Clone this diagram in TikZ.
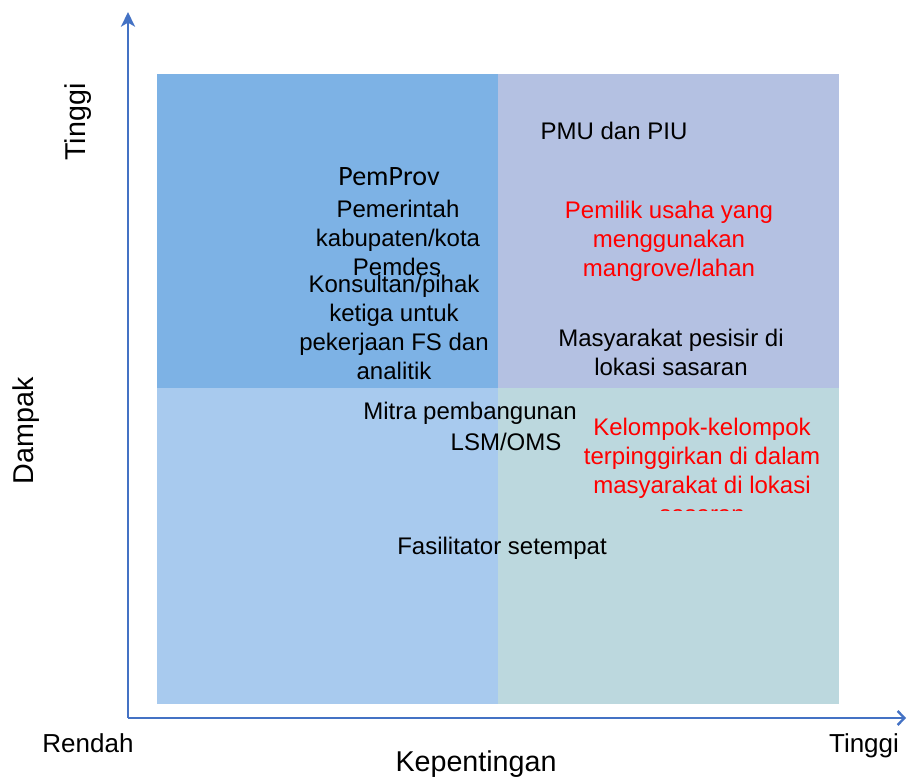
\documentclass[tikz,border=0pt]{standalone}
\usepackage{fontspec}
\setmainfont{Liberation Sans}
\newfontfamily\calib{Carlito}
\usepackage{tikz}
\usetikzlibrary{arrows.meta}
\definecolor{axisblue}{RGB}{68,114,196}
\definecolor{qtl}{RGB}{125,178,229}
\definecolor{qtr}{RGB}{180,193,226}
\definecolor{qbl}{RGB}{168,202,238}
\definecolor{qbr}{RGB}{188,216,222}
\tikzstyle{matrixgrid}=[x=0.75pt, y=-0.75pt, font=\fontsize{18}{21.75}\selectfont]
\tikzstyle{axis}=[draw=axisblue, line width=1.8pt]
\tikzstyle{lbl}=[inner sep=0pt, align=center, font=\fontsize{19.5}{23}\selectfont]
\tikzstyle{bigl}=[inner sep=0pt, align=center, font=\fontsize{21.5}{25}\selectfont]
\tikzstyle{who}=[inner sep=0pt, align=center]
\tikzstyle{hot}=[who, text=red]
\begin{document}
\begin{tikzpicture}[matrixgrid]
	\useasboundingbox (0,0) rectangle (907,777);
	%The quadrants
	\fill[qtl] (157,74) rectangle (498,388);
	\fill[qtr] (498,74) rectangle (839,388);
	\fill[qbl] (157,388) rectangle (498,704);
	\fill[qbr] (498,388) rectangle (839,704);

	%The axes
	\coordinate (origin) at (128,718);
	\coordinate (ytop) at (128,12);
	\coordinate (xend) at (906,718);
	\draw[axis, -{Stealth[length=11pt, width=10.5pt, inset=3pt]}] (origin) -- (ytop);
	\draw[axis, -{Straight Barb[length=5pt, width=10.5pt]}] (origin) -- (xend);

	%The axis labels
	\draw (88,752) node[lbl, anchor=base] (low) {Rendah};
	\draw (864,752) node[lbl, anchor=base] (high) {Tinggi};
	\draw (476,771) node[bigl, anchor=base] (xlab) {Kepentingan};
	\draw (85,122) node[bigl, rotate=90, anchor=base] (ylabhigh) {Tinggi};
	\draw (33,431) node[bigl, rotate=90, anchor=base] (ylab) {Dampak};

	%Top left
	\draw (389,177) node[who, font=\calib\fontsize{21}{25}\selectfont] (prov) {PemProv};
	\draw (398,226) node[who] (kab) {Pemerintah\\kabupaten/kota};
	\draw (397,267) node[who] (desa) {Pemdes};
	\draw (394,327) node[who] (kons) {Konsultan/pihak\\ketiga untuk\\pekerjaan FS dan\\analitik};

	%Top right
	\draw (614,131) node[who] (pmu) {PMU dan PIU};
	\draw (669,241) node[hot] (usaha) {Pemilik usaha yang\\menggunakan\\mangrove/lahan};
	\draw (671,352) node[who] (pesisir) {Masyarakat pesisir di\\lokasi sasaran};

	%Bottom
	\draw (470,413) node[who] (mitra) {Mitra pembangunan};
	\draw (506,442) node[who] (lsm) {LSM/OMS};
	\begin{scope}
		\clip (560,400) rectangle (839,510);
		\draw (702,470) node[hot] (kel) {Kelompok-kelompok\\terpinggirkan di dalam\\masyarakat di lokasi\\sasaran};
	\end{scope}
	\draw (502,548) node[who] (fas) {Fasilitator setempat};
\end{tikzpicture}
\end{document}
